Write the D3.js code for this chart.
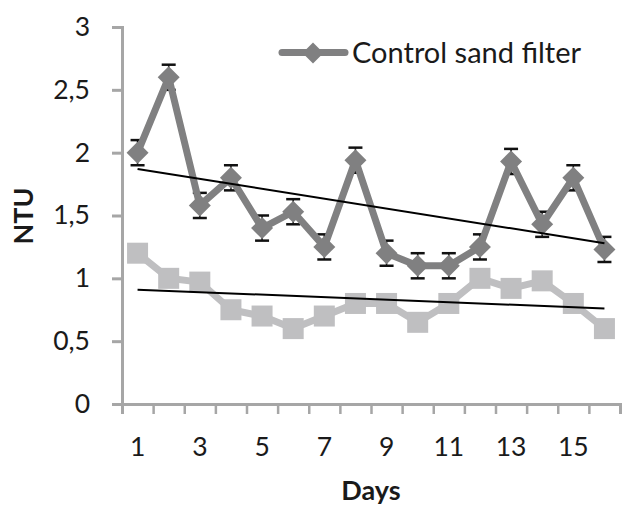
<!DOCTYPE html>
<html><head><meta charset="utf-8">
<script src="https://cdn.jsdelivr.net/npm/d3@7"></script>
<style>html,body{margin:0;padding:0;background:#fff}svg{display:block}</style>
</head><body>
<svg id="c" width="622" height="508"></svg>
<script>
const days = [1,2,3,4,5,6,7,8,9,10,11,12,13,14,15,16];
const controlValues = [2.0,2.6,1.58,1.8,1.4,1.53,1.25,1.94,1.2,1.1,1.1,1.25,1.93,1.43,1.8,1.23];
const controlErrors = [0.1,0.1,0.1,0.1,0.1,0.1,0.1,0.1,0.1,0.1,0.1,0.1,0.1,0.1,0.1,0.1];
const otherValues = [1.2,1.0,0.97,0.75,0.7,0.6,0.7,0.8,0.8,0.65,0.8,1.0,0.92,0.98,0.8,0.6];
const controlTrend = [1.87,1.28];
const otherTrend = [0.91,0.76];
const yTicks = [0,0.5,1,1.5,2,2.5,3];
const xTickLabels = [1,3,5,7,9,11,13,15];
const legendLabel = "Control sand filter";

const FONT = "Lato, 'Open Sans', sans-serif";
const cDark = "#808081", cLight = "#bfbfc1", cAxis = "#a6a6a6";
const svg = d3.select("#c");
const x = d3.scaleBand().domain(days).range([122,620]);
const xb = d3.scaleLinear().domain([0.5,16.5]).range([122,620]);
const y = d3.scaleLinear().domain([0,3]).range([404,27]);
const cx = d => x(d)+x.bandwidth()/2;

// Y axis
const ya = svg.append("g").attr("transform","translate(122,0)")
  .call(d3.axisLeft(y).tickValues(yTicks).tickSize(10).tickPadding(22)
    .tickFormat(d=>String(d).replace(".",",")));
ya.select(".domain").attr("stroke",cAxis).attr("stroke-width",3);
ya.selectAll(".tick line").attr("stroke",cAxis).attr("stroke-width",3);
ya.selectAll("text").attr("font-family",FONT).attr("font-size",26.5).attr("fill","#1a1a1a");

// X axis ticks (boundaries)
const xt = svg.append("g").attr("transform","translate(0,404)")
  .call(d3.axisBottom(xb).tickValues(d3.range(0.5,17,1)).tickSize(10).tickFormat(""));
xt.select(".domain").attr("stroke",cAxis).attr("stroke-width",3);
xt.selectAll(".tick line").attr("stroke",cAxis).attr("stroke-width",2.5);
// X labels
const xl = svg.append("g").attr("transform","translate(0,404)")
  .call(d3.axisBottom(x).tickValues(xTickLabels).tickSize(0).tickPadding(33));
xl.select(".domain").remove();
xl.selectAll("text").attr("font-family",FONT).attr("font-size",26.5).attr("fill","#1a1a1a");

// Trend lines
const trendLine = (vals)=> svg.append("line")
  .attr("x1",cx(days[0])).attr("x2",cx(days[days.length-1]))
  .attr("y1",y(vals[0])).attr("y2",y(vals[1]))
  .attr("stroke","#000").attr("stroke-width",2);

// Light series
svg.append("path").datum(otherValues)
  .attr("d", d3.line().x((d,i)=>cx(days[i])).y(d=>y(d)))
  .attr("fill","none").attr("stroke",cLight).attr("stroke-width",7).attr("stroke-linejoin","round");
svg.selectAll(".sq").data(otherValues).join("rect")
  .attr("x",(d,i)=>cx(days[i])-10.5).attr("y",d=>y(d)-10.5)
  .attr("width",21).attr("height",21).attr("fill",cLight);
trendLine(otherTrend);

// Error bars
const eb = svg.append("g").attr("stroke","#111");
controlValues.forEach((v,i)=>{
  const xx = cx(days[i]);
  eb.append("line").attr("x1",xx).attr("x2",xx).attr("y1",y(v+controlErrors[i])).attr("y2",y(v-controlErrors[i])).attr("stroke-width",1.5);
  [v+controlErrors[i], v-controlErrors[i]].forEach(e=>{
    eb.append("line").attr("x1",xx-7).attr("x2",xx+7).attr("y1",y(e)).attr("y2",y(e)).attr("stroke-width",2.5);
  });
});

// Control series
svg.append("path").datum(controlValues)
  .attr("d", d3.line().x((d,i)=>cx(days[i])).y(d=>y(d)))
  .attr("fill","none").attr("stroke",cDark).attr("stroke-width",7).attr("stroke-linejoin","round");
const diamond = (xx,yy,r)=>`M${xx},${yy-r}L${xx+r},${yy}L${xx},${yy+r}L${xx-r},${yy}Z`;
svg.selectAll(".dm").data(controlValues).join("path")
  .attr("d",(d,i)=>diamond(cx(days[i]),y(d),11)).attr("fill",cDark);
trendLine(controlTrend);

// Legend
svg.append("line").attr("x1",282).attr("x2",345).attr("y1",52.5).attr("y2",52.5)
  .attr("stroke",cDark).attr("stroke-width",7).attr("stroke-linecap","round");
svg.append("path").attr("d",diamond(313,53,10.5)).attr("fill",cDark);
svg.append("text").attr("x",352).attr("y",63).text(legendLabel)
  .attr("font-family",FONT).attr("font-size",29).attr("fill","#1a1a1a");

// Axis titles
svg.append("text").attr("x",371).attr("y",500).attr("text-anchor","middle").text("Days")
  .attr("font-family",FONT).attr("font-weight","bold").attr("font-size",27).attr("fill","#1a1a1a");
svg.append("text").attr("transform","translate(33,216) rotate(-90)").attr("text-anchor","middle").text("NTU")
  .attr("font-family",FONT).attr("font-weight","bold").attr("font-size",27).attr("fill","#1a1a1a");
</script>
</body></html>
